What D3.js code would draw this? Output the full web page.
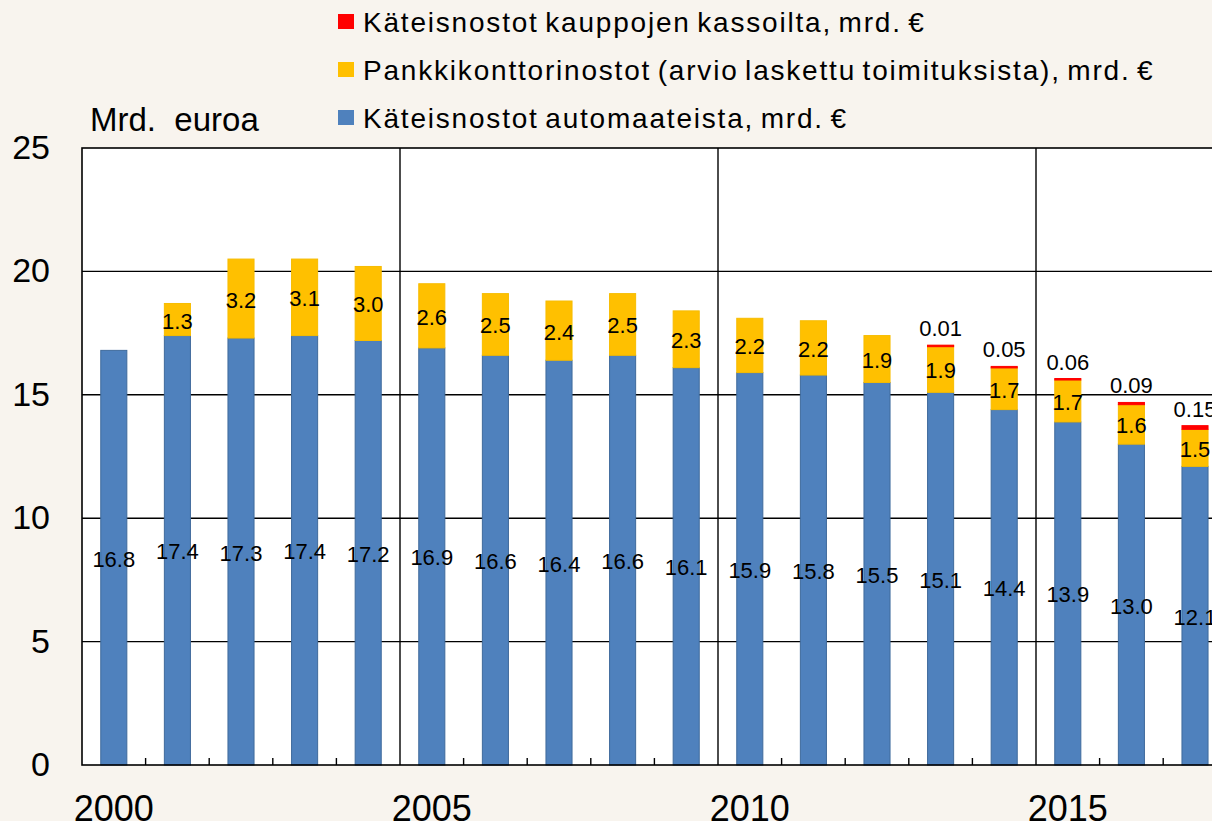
<!DOCTYPE html>
<html>
  <head>
    <meta charset="utf-8" />
    <script src="https://d3js.org/d3.v7.min.js"></script>
    <style>
      body { margin: 0; background: #f8f4ee; overflow: hidden; }
      svg { display: block; font-family: "Liberation Sans", Arial, sans-serif; }
      .grid { stroke: #000000; stroke-width: 1.4; }
      .lbl { font-size: 22px; fill: #000; text-anchor: middle; }
    </style>
  </head>
  <body>
    <svg width="1212" height="821"></svg>

    <script type="text/javascript">

    // years on the axis (20 slots, data only to 2017)
    var years = d3.range(2000, 2020);
    var dataYears = d3.range(2000, 2018);

    // Käteisnostot automaateista
    var atm = [16.8, 17.4, 17.3, 17.4, 17.2, 16.9, 16.6, 16.4, 16.6, 16.1,
               15.9, 15.8, 15.5, 15.1, 14.4, 13.9, 13.0, 12.1];
    // Pankkikonttorinostot
    var branch = [0, 1.3, 3.2, 3.1, 3.0, 2.6, 2.5, 2.4, 2.5, 2.3,
                  2.2, 2.2, 1.9, 1.9, 1.7, 1.7, 1.6, 1.5];
    // Käteisnostot kauppojen kassoilta
    var shops = [0, 0, 0, 0, 0, 0, 0, 0, 0, 0,
                 0, 0, 0, 0.01, 0.05, 0.06, 0.09, 0.15];

    var yTicks = [0, 5, 10, 15, 20, 25];
    var xLabels = [2000, 2005, 2010, 2015];

    var legendItems = [
      { name: "Käteisnostot kauppojen kassoilta, mrd. €", color: "#ff0000" },
      { name: "Pankkikonttorinostot (arvio laskettu toimituksista), mrd. €", color: "#ffc000" },
      { name: "Käteisnostot automaateista, mrd. €", color: "#4f81bd" }
    ];

    var svg = d3.select("svg");
    var plotL = 82, plotT = 148, plotB = 765, step = 63.6;
    var plotR = plotL + step * years.length;

    var x = d3.scaleBand().domain(years).range([plotL, plotR]).paddingInner(0.59).paddingOuter(0.295);
    var y = d3.scaleLinear().domain([0, 25]).range([plotB, plotT]);
    var sep = function(d) { return x(d) - x.step() * x.paddingInner() / 2; };
    var mid = function(d) { return x(d) + x.bandwidth() / 2; };

    // plot area
    svg.append("rect")
      .attr("x", plotL).attr("y", plotT)
      .attr("width", plotR - plotL).attr("height", plotB - plotT)
      .attr("fill", "#ffffff");

    // horizontal gridlines
    svg.selectAll(".hgrid")
      .data(yTicks.filter(function(d) { return d > 0 && d < 25; }))
      .enter().append("line")
      .attr("class", "grid")
      .attr("x1", plotL).attr("x2", plotR)
      .attr("y1", function(d) { return y(d); })
      .attr("y2", function(d) { return y(d); });

    // vertical separators every 5 years
    svg.selectAll(".vgrid")
      .data([2005, 2010, 2015])
      .enter().append("line")
      .attr("class", "grid")
      .attr("x1", sep).attr("x2", sep)
      .attr("y1", plotT).attr("y2", plotB);

    // stacked data
    var rows = dataYears.map(function(yr, i) {
      return { year: yr, atm: atm[i], branch: branch[i], shops: shops[i] };
    });
    var stack = d3.stack().keys(["atm", "branch", "shops"])(rows);
    var colors = { atm: "#4f81bd", branch: "#ffc000", shops: "#ff0000" };
    var strokes = { atm: "#3f6a9c", branch: "#f7bc00", shops: "#ff0000" };

    stack.forEach(function(layer) {
      svg.append("g").selectAll("rect")
        .data(layer.filter(function(d) { return d[1] - d[0] > 0; }))
        .enter().append("rect")
        .attr("x", function(d) { return x(d.data.year); })
        .attr("width", x.bandwidth())
        .attr("y", function(d) { return y(d[1]); })
        .attr("height", function(d) { return Math.max(1.5, y(d[0]) - y(d[1])); })
        .attr("fill", colors[layer.key])
        .attr("stroke", strokes[layer.key])
        .attr("stroke-width", 1);
    });

    // value labels
    var fmt1 = d3.format(".1f"), fmt2 = d3.format(".2f");
    svg.append("g").selectAll("text")
      .data(rows)
      .enter().append("text")
      .attr("class", "lbl")
      .attr("x", function(d) { return mid(d.year); })
      .attr("y", function(d) { return y(d.atm / 2) + 9; })
      .text(function(d) { return fmt1(d.atm); });

    svg.append("g").selectAll("text")
      .data(rows.filter(function(d) { return d.branch > 0; }))
      .enter().append("text")
      .attr("class", "lbl")
      .attr("x", function(d) { return mid(d.year); })
      .attr("y", function(d) { return y(d.atm + d.branch / 2) + 9; })
      .text(function(d) { return fmt1(d.branch); });

    svg.append("g").selectAll("text")
      .data(rows.filter(function(d) { return d.shops > 0; }))
      .enter().append("text")
      .attr("class", "lbl")
      .attr("x", function(d) { return mid(d.year); })
      .attr("y", function(d) { return y(d.atm + d.branch + d.shops) - 9; })
      .text(function(d) { return fmt2(d.shops); });

    // small ticks on the x axis between categories
    svg.selectAll(".xtick")
      .data(years.slice(1).filter(function(d) { return d % 5 !== 0; }))
      .enter().append("line")
      .attr("x1", sep).attr("x2", sep)
      .attr("y1", plotB).attr("y2", plotB - 7)
      .attr("stroke", "#000").attr("stroke-width", 1.4);

    // plot border
    svg.append("rect")
      .attr("x", plotL).attr("y", plotT)
      .attr("width", plotR - plotL).attr("height", plotB - plotT)
      .attr("fill", "none").attr("stroke", "#000").attr("stroke-width", 1.6);

    // y tick labels
    svg.selectAll(".ylab")
      .data(yTicks)
      .enter().append("text")
      .attr("x", 50).attr("y", function(d) { return y(d) + 11; })
      .attr("text-anchor", "end")
      .attr("font-size", 34)
      .text(function(d) { return d; });

    // x labels
    svg.selectAll(".xlab")
      .data(xLabels)
      .enter().append("text")
      .attr("x", mid)
      .attr("y", 821)
      .attr("text-anchor", "middle")
      .attr("font-size", 36)
      .text(function(d) { return d; });

    // unit title
    svg.append("text")
      .attr("x", 90).attr("y", 131)
      .attr("font-size", 33)
      .text("Mrd.\u00a0 euroa");

    // legend
    var legend = svg.selectAll(".leg")
      .data(legendItems)
      .enter().append("g")
      .attr("transform", function(d, i) { return "translate(338," + (14 + i * 48) + ")"; });
    legend.append("rect")
      .attr("width", 16).attr("height", 15)
      .attr("fill", function(d) { return d.color; });
    legend.append("text")
      .attr("x", 25).attr("y", 18)
      .attr("font-size", 28)
      .attr("letter-spacing", 1.8)
      .attr("word-spacing", -3)
      .text(function(d) { return d.name; });

    </script>
  </body>
</html>
